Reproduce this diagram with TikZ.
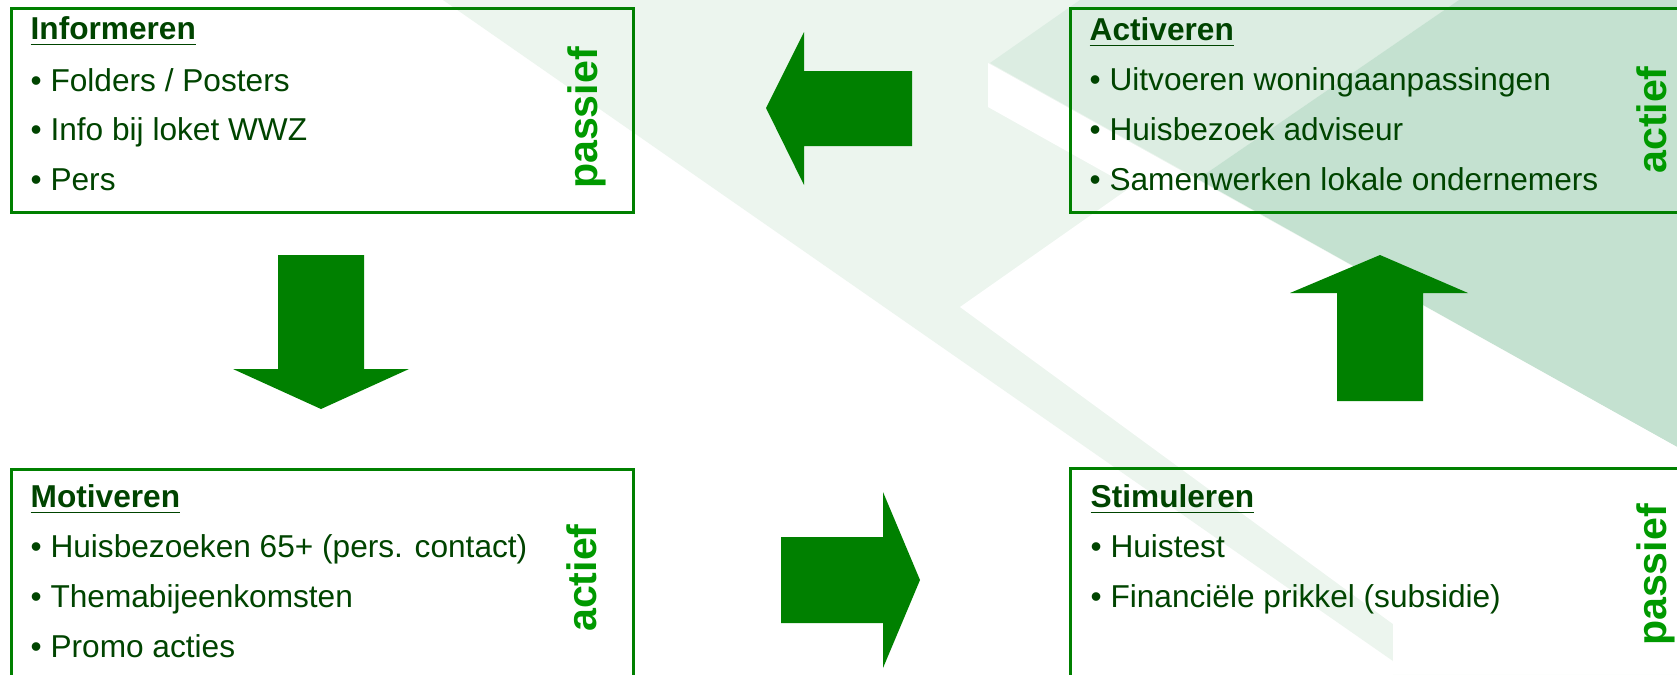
\documentclass[tikz,border=0pt]{standalone}
\usepackage{fontspec}
\setmainfont{Liberation Sans}
\usepackage{tikz}

\definecolor{arrowgreen}{RGB}{0,128,0}
\definecolor{textgreen}{RGB}{0,68,0}
\definecolor{labelgreen}{RGB}{0,153,0}
\definecolor{palebg}{RGB}{236,245,238}
\definecolor{lightbg}{RGB}{220,237,226}
\definecolor{deepbg}{RGB}{196,225,208}

\begin{document}
\begin{tikzpicture}[
	box/.style={draw=arrowgreen, line width=0.8pt, anchor=north west, inner sep=0pt},
	boxtitle/.style={anchor=base west, inner sep=0pt, text=textgreen, font=\fontsize{9}{11}\selectfont\bfseries},
	itemtext/.style={anchor=base west, inner sep=0pt, text=textgreen, font=\fontsize{9}{11}\selectfont},
	side/.style={anchor=base, rotate=90, inner sep=0pt, text=labelgreen, font=\fontsize{11.7}{14}\selectfont\bfseries},
	blockarrow/.style={fill=arrowgreen}
]
	\useasboundingbox (0,0) rectangle (16.77,6.74);
	\fill[white] (0,0) rectangle (16.77,6.74);

	% background
	\fill[palebg] (4.43,6.74) -- (16.77,6.74) -- (16.77,0) -- (13.93,0) -- (13.93,0.13) -- cycle;
	\fill[lightbg] (10.80,6.74) -- (14.59,6.74) -- (11.98,4.95) -- (9.90,6.11) -- cycle;
	\fill[deepbg] (14.59,6.74) -- (16.77,6.74) -- (16.77,2.27) -- (11.98,4.95) -- cycle;
	\fill[white] (9.88,6.11) -- (16.77,2.27) -- (16.77,0) -- (13.93,0) -- (13.93,0.50)
		-- (9.60,3.67) -- (11.31,4.87) -- (9.88,5.67) -- cycle;

	% Informeren
	\node[box, minimum width=6.22cm, minimum height=2.04cm] (informeren) at (0.10,6.67) {};
	\node[boxtitle] (infTitle) at ([shift={(0.20,-0.32)}]informeren.north west) {\underline{Informeren}};
	\node[itemtext] (inf1) at ([yshift=-0.52cm]infTitle.base west) {• Folders / Posters};
	\node[itemtext] (inf2) at ([yshift=-0.49cm]inf1.base west) {• Info bij loket WWZ};
	\node[itemtext] (inf3) at ([yshift=-0.50cm]inf2.base west) {• Pers};
	\node[side] (infSide) at ([shift={(5.87,-1.11)}]informeren.north west) {passief};

	% Activeren
	\node[box, minimum width=6.3cm, minimum height=2.04cm] (activeren) at (10.69,6.67) {};
	\node[boxtitle] (actTitle) at ([shift={(0.20,-0.33)}]activeren.north west) {\underline{Activeren}};
	\node[itemtext] (act1) at ([yshift=-0.50cm]actTitle.base west) {• Uitvoeren woningaanpassingen};
	\node[itemtext] (act2) at ([yshift=-0.50cm]act1.base west) {• Huisbezoek adviseur};
	\node[itemtext] (act3) at ([yshift=-0.50cm]act2.base west) {• Samenwerken lokale ondernemers};
	\node[side] (actSide) at ([shift={(5.97,-1.13)}]activeren.north west) {actief};

	% Motiveren
	\node[box, minimum width=6.22cm, minimum height=2.3cm] (motiveren) at (0.10,2.06) {};
	\node[boxtitle] (motTitle) at ([shift={(0.20,-0.39)}]motiveren.north west) {\underline{Motiveren}};
	\node[itemtext] (mot1) at ([yshift=-0.50cm]motTitle.base west) {• Huisbezoeken 65+ (pers. contact)};
	\node[itemtext] (mot2) at ([yshift=-0.50cm]mot1.base west) {• Themabijeenkomsten};
	\node[itemtext] (mot3) at ([yshift=-0.50cm]mot2.base west) {• Promo acties};
	\node[side] (motSide) at ([shift={(5.86,-1.10)}]motiveren.north west) {actief};

	% Stimuleren
	\node[box, minimum width=6.3cm, minimum height=2.3cm] (stimuleren) at (10.69,2.07) {};
	\node[boxtitle] (stiTitle) at ([shift={(0.21,-0.40)}]stimuleren.north west) {\underline{Stimuleren}};
	\node[itemtext] (sti1) at ([yshift=-0.50cm]stiTitle.base west) {• Huistest};
	\node[itemtext] (sti2) at ([yshift=-0.50cm]sti1.base west) {• Financiële prikkel (subsidie)};
	\node[side] (stiSide) at ([shift={(5.97,-1.08)}]stimuleren.north west) {passief};

	% arrows
	\fill[blockarrow] (7.66,5.66) -- (8.04,6.42) -- (8.04,6.03) -- (9.12,6.03)
		-- (9.12,5.28) -- (8.04,5.28) -- (8.04,4.89) -- cycle;
	\fill[blockarrow] (2.78,4.19) -- (3.64,4.19) -- (3.64,3.05) -- (4.09,3.05)
		-- (3.21,2.65) -- (2.33,3.05) -- (2.78,3.05) -- cycle;
	\fill[blockarrow] (7.81,1.37) -- (8.83,1.37) -- (8.83,1.82) -- (9.20,0.94)
		-- (8.83,0.06) -- (8.83,0.51) -- (7.81,0.51) -- cycle;
	\fill[blockarrow] (13.80,4.19) -- (14.68,3.81) -- (14.23,3.81) -- (14.23,2.73)
		-- (13.37,2.73) -- (13.37,3.81) -- (12.90,3.81) -- cycle;
\end{tikzpicture}
\end{document}
